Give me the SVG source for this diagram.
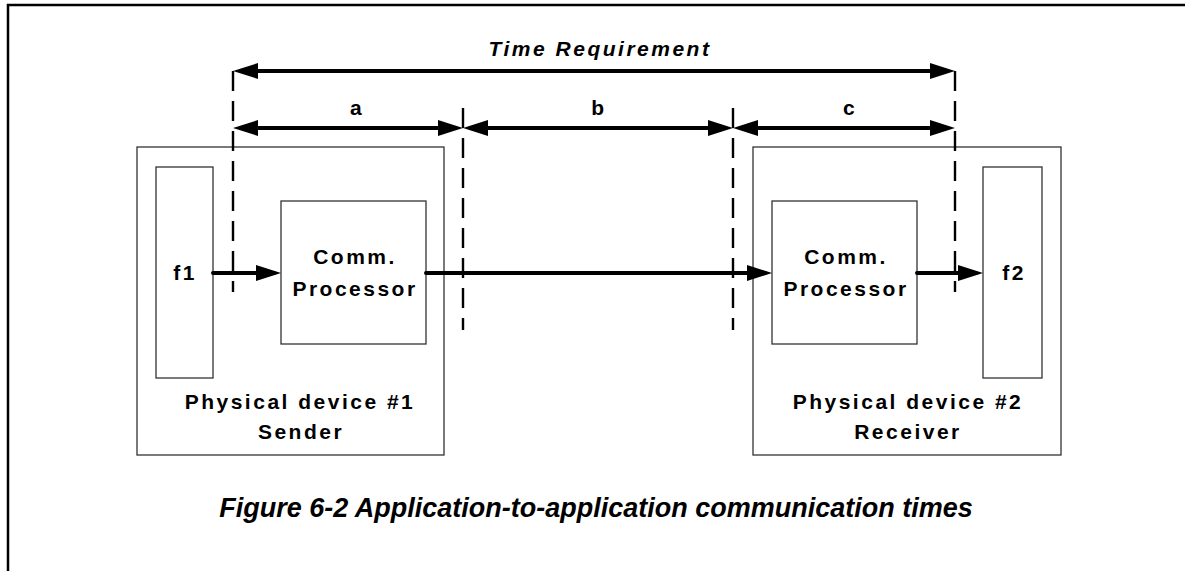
<svg xmlns="http://www.w3.org/2000/svg" width="1185" height="571" viewBox="0 0 1185 571">
<style>
.lbl{font-family:"Liberation Sans",Arial,sans-serif;font-weight:bold;font-size:21px;fill:#000;text-anchor:middle;letter-spacing:2.5px}
.ital{font-style:italic}
.box{fill:#fff;stroke:#333;stroke-width:1.3}
.dim{stroke:#000;stroke-width:4;fill:none}
.dash{stroke:#000;stroke-width:2.4;stroke-dasharray:20 10;fill:none}
.flow{stroke:#000;stroke-width:4;fill:none;stroke-linecap:round}
.frame{stroke:#000;stroke-width:2.5;fill:none}
</style>
<defs>
<marker id="ah" markerUnits="userSpaceOnUse" viewBox="0 0 25 16" refX="18" refY="8" markerWidth="25" markerHeight="16" orient="auto-start-reverse">
<path d="M0,0 L25,8 L0,16 Z" fill="#000"/>
</marker>
</defs>
<rect width="1185" height="571" fill="#fff"/>
<path class="frame" d="M8,571 V5 H1185"/>

<g id="device1">
<rect class="box" x="137" y="147" width="307" height="308"/>
<text class="lbl" x="300" y="409">Physical device #1</text>
<text class="lbl" x="301" y="439">Sender</text>
</g>
<g id="f1">
<rect class="box" x="156" y="167" width="57" height="211"/>
<text class="lbl" x="185" y="280">f1</text>
</g>
<g id="comm1">
<rect class="box" x="281" y="201" width="145" height="143"/>
<text class="lbl" x="355" y="264">Comm.</text>
<text class="lbl" x="355" y="296">Processor</text>
</g>
<g id="device2">
<rect class="box" x="753" y="147" width="308" height="308"/>
<text class="lbl" x="908" y="409">Physical device #2</text>
<text class="lbl" x="908" y="439">Receiver</text>
</g>
<g id="comm2">
<rect class="box" x="772" y="201" width="145" height="143"/>
<text class="lbl" x="846" y="264">Comm.</text>
<text class="lbl" x="846" y="296">Processor</text>
</g>
<g id="f2">
<rect class="box" x="983" y="167" width="59" height="211"/>
<text class="lbl" x="1014" y="280">f2</text>
</g>

<g id="connectors">
<line class="dash" x1="233" y1="71" x2="233" y2="292"/>
<line class="dash" x1="463" y1="108" x2="463" y2="330"/>
<line class="dash" x1="733" y1="108" x2="733" y2="330"/>
<line class="dash" x1="955" y1="71" x2="955" y2="292"/>
<line class="dim" x1="240" y1="71" x2="948" y2="71" marker-start="url(#ah)" marker-end="url(#ah)"/>
<line class="dim" x1="240" y1="128" x2="456" y2="128" marker-start="url(#ah)" marker-end="url(#ah)"/>
<line class="dim" x1="470" y1="128" x2="726" y2="128" marker-start="url(#ah)" marker-end="url(#ah)"/>
<line class="dim" x1="740" y1="128" x2="948" y2="128" marker-start="url(#ah)" marker-end="url(#ah)"/>
<line class="flow" x1="213" y1="273" x2="274" y2="273" marker-end="url(#ah)"/>
<line class="flow" x1="426" y1="273" x2="765" y2="273" marker-end="url(#ah)"/>
<line class="flow" x1="917" y1="273" x2="976" y2="273" marker-end="url(#ah)"/>
</g>

<g id="labels">
<text class="lbl ital" x="600" y="56">Time Requirement</text>
<text class="lbl" x="357" y="115">a</text>
<text class="lbl" x="599" y="115">b</text>
<text class="lbl" x="850" y="115">c</text>
<text class="lbl ital" x="596" y="517" style="font-size:27px;letter-spacing:0">Figure 6-2 Application-to-application communication times</text>
</g>
</svg>
